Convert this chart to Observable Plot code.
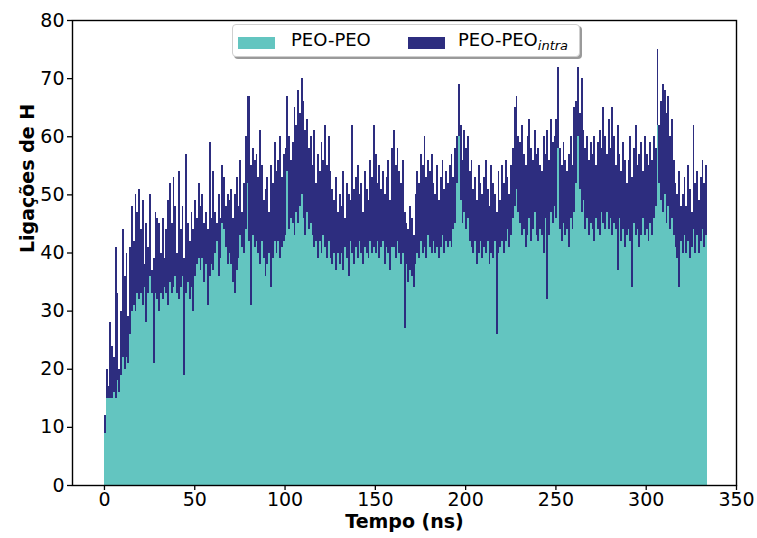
<!DOCTYPE html>
<html>
<head>
<meta charset="utf-8">
<script src="https://cdn.jsdelivr.net/npm/d3@7"></script>
<script src="https://cdn.jsdelivr.net/npm/@observablehq/plot@0.6"></script>
<style>
  html, body { margin: 0; padding: 0; background: #fff; }
  #wrap { position: relative; width: 757px; height: 538px; font-family: "DejaVu Sans", sans-serif; }
  #legend { position: absolute; left: 232px; top: 24px; width: 346px; height: 31px;
    border: 1px solid #cfcfcf; border-radius: 4px; background: #fff; box-shadow: 2px 2px 0 #9a9a9a; }
  .patch { position: absolute; top: 12px; width: 37px; height: 12px; }
  .lab { position: absolute; top: 4px; font-size: 18px; line-height: 22px; color: #000; white-space: nowrap; }
  .lab i { font-size: 13px; position: relative; top: 4px; }
</style>
</head>
<body>
<div id="wrap">
  <div id="chart"></div>
  <div id="legend">
    <div class="patch" style="left:5px;background:#63c5c0"></div>
    <div class="lab" style="left:58px">PEO-PEO</div>
    <div class="patch" style="left:175px;background:#2d2d7f"></div>
    <div class="lab" style="left:225px">PEO-PEO<i>intra</i></div>
  </div>
</div>
<script>
// PEO-PEO hydrogen bonds (teal, bottom) per ns
const peo = [
  9, 15, 15, 15, 15, 16, 15, 18, 16, 19,
  22, 20, 22, 21, 26, 30, 31, 30, 33, 32,
  33, 31, 34, 28, 33, 36, 33, 21, 33, 32,
  30, 33, 32, 34, 33, 31, 35, 33, 34, 36,
  33, 32, 34, 36, 19, 33, 35, 32, 34, 30,
  36, 38, 39, 37, 39, 35, 38, 31, 36, 38,
  37, 40, 42, 36, 39, 45, 44, 41, 38, 40,
  38, 35, 33, 37, 39, 43, 41, 40, 44, 52,
  42, 31, 43, 41, 42, 40, 38, 42, 39, 36,
  38, 40, 34, 39, 42, 40, 42, 39, 41, 42,
  43, 54, 44, 46, 45, 43, 47, 45, 48, 50,
  46, 43, 47, 44, 45, 43, 41, 42, 39, 42,
  40, 43, 41, 39, 42, 39, 38, 40, 37, 40,
  38, 40, 37, 41, 39, 36, 42, 40, 38, 41,
  39, 42, 40, 38, 41, 40, 39, 42, 40, 41,
  40, 42, 39, 41, 42, 38, 41, 40, 37, 41,
  41, 39, 42, 40, 38, 40, 27, 38, 35, 37,
  36, 34, 38, 40, 39, 42, 40, 41, 39, 43,
  41, 40, 42, 40, 41, 39, 41, 43, 40, 42,
  41, 42, 41, 44, 45, 52, 60, 49, 45, 47,
  44, 46, 42, 41, 40, 42, 38, 40, 42, 39,
  41, 40, 42, 38, 40, 39, 42, 26, 40, 41,
  42, 40, 42, 44, 41, 43, 46, 48, 51, 47,
  45, 43, 44, 41, 43, 46, 42, 44, 47, 43,
  42, 44, 43, 40, 46, 32, 43, 47, 45, 48,
  46, 58, 44, 42, 45, 43, 44, 41, 46, 44,
  47, 52, 60, 51, 47, 49, 44, 46, 43, 45,
  44, 42, 46, 44, 43, 47, 45, 44, 47, 44,
  46, 43, 45, 44, 37, 46, 42, 44, 41, 43,
  44, 42, 34, 45, 43, 44, 41, 43, 46, 43,
  44, 42, 45, 43, 46, 48, 62, 52, 49, 47,
  50, 45, 48, 44, 46, 43, 41, 39, 34, 42,
  40, 43, 40, 42, 39, 41, 44, 40, 43, 40,
  42, 44, 41, 43
];
// Top of the PEO-PEO_intra bar (navy, stacked on the teal) per ns
const total = [
  12, 20, 17, 28, 24, 22, 41, 33, 20, 30,
  44, 36, 40, 29, 41, 48, 42, 50, 47, 51,
  44, 49, 38, 45, 41, 50, 37, 39, 47, 46,
  45, 40, 46, 39, 44, 49, 52, 45, 53, 48,
  40, 54, 44, 48, 39, 57, 45, 42, 47, 44,
  49, 46, 52, 48, 50, 45, 47, 44, 59, 46,
  54, 47, 45, 50, 46, 55, 53, 48, 50, 49,
  51, 46, 50, 53, 48, 56, 47, 52, 60, 67,
  67, 55, 58, 56, 57, 53, 61, 55, 49, 51,
  53, 47, 55, 52, 59, 54, 56, 60, 53, 57,
  58, 67, 60, 56, 59, 65, 62, 68, 64, 70,
  66, 61, 63, 58, 60, 55, 61, 52, 57, 54,
  59, 56, 62, 55, 60, 54, 51, 49, 53, 47,
  50, 48, 54, 46, 52, 50, 49, 62, 51, 53,
  55, 50, 52, 47, 54, 51, 49, 56, 53, 62,
  57, 52, 55, 51, 54, 50, 53, 56, 49, 58,
  61, 55, 58, 54, 52, 56, 47, 45, 44, 48,
  46, 43, 50, 54, 52, 57, 55, 60, 53, 56,
  54, 57, 52, 50, 55, 49, 53, 56, 51, 54,
  52, 55, 57, 53, 58, 60, 69, 62, 56, 61,
  58, 60, 54, 56, 51, 53, 49, 55, 52, 50,
  53, 56, 51, 48, 55, 52, 50, 47, 54, 49,
  55, 52, 56, 53, 50, 55, 58, 65, 67, 60,
  59, 62, 57, 55, 60, 63, 58, 56, 61, 57,
  58, 55, 54, 60, 57, 61, 56, 63, 59, 60,
  63, 72, 58, 55, 59, 56, 54, 57, 60, 55,
  65, 66, 72, 64, 70, 61, 58, 60, 56, 59,
  57, 60, 55, 59, 61, 58, 65, 60, 57, 63,
  58, 65, 60, 55, 62, 57, 54, 59, 56, 52,
  56, 60, 53, 58, 62, 55, 57, 59, 54, 60,
  57, 55, 59, 56, 60, 58, 75, 62, 66, 69,
  68, 64, 67, 60, 63, 56, 52, 50, 54, 48,
  50, 53, 48, 55, 51, 47, 62, 52, 54, 49,
  53, 56, 52, 55
];
const xTicks = [0, 50, 100, 150, 200, 250, 300, 350];
const yTicks = [0, 10, 20, 30, 40, 50, 60, 70, 80];
const xLabel = "Tempo (ns)";
const yLabel = "Ligações de H";
const TEAL = "#63c5c0", NAVY = "#2d2d7f";

const rows = peo.map((v, i) => ({t0: i, t1: i + 1, peo: v, tot: total[i]}));

const chart = Plot.plot({
  width: 757, height: 538,
  marginLeft: 72, marginRight: 21, marginTop: 20, marginBottom: 53,
  style: {fontFamily: "DejaVu Sans", fontSize: "19px", color: "#000", background: "#fff"},
  x: {domain: [-17.7, 350]},
  y: {domain: [0, 80]},
  marks: [
    Plot.rect(rows, {x1: "t0", x2: "t1", y1: 0, y2: "peo", fill: TEAL, shapeRendering: "crispEdges"}),
    Plot.rect(rows, {x1: "t0", x2: "t1", y1: "peo", y2: "tot", fill: NAVY, shapeRendering: "crispEdges"}),
    Plot.frame({stroke: "#000", strokeWidth: 1.4}),
    Plot.axisX({ticks: xTicks, tickSize: 5, tickPadding: 2, label: null, strokeWidth: 1.3}),
    Plot.axisY({ticks: yTicks, tickSize: 5, tickPadding: 3, label: null, strokeWidth: 1.3}),
    Plot.text([xLabel], {frameAnchor: "bottom", dy: 42, fontWeight: "bold", fontSize: 19}),
    Plot.text([yLabel], {frameAnchor: "left", dx: -45, rotate: -90, fontWeight: "bold", fontSize: 19})
  ]
});
document.getElementById("chart").appendChild(chart);
</script>
</body>
</html>
